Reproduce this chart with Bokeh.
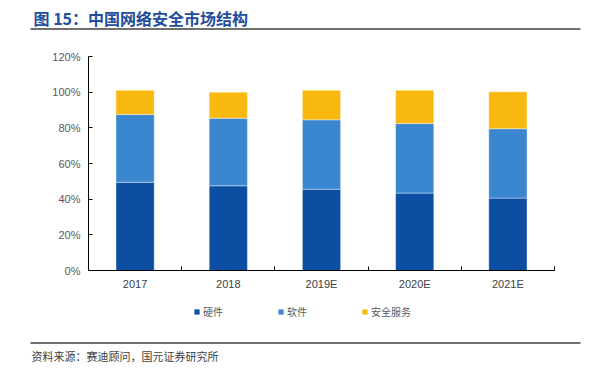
from bokeh.plotting import figure
from bokeh.models import (Range1d, FixedTicker, PrintfTickFormatter, Legend,
                          LegendItem, ColumnDataSource, LinearAxis)
from bokeh.embed import file_html
from bokeh.resources import INLINE
from bokeh.core.properties import value

# ---- data ----
years = ["2017", "2018", "2019E", "2020E", "2021E"]
hardware = [49.5, 47.5, 45.6, 43.4, 40.6]
software = [38.0, 37.9, 38.9, 39.0, 38.9]
services = [13.6, 14.6, 16.6, 18.7, 20.7]
series_names = ["硬件", "软件", "安全服务"]
colors = ["#0b4ea2", "#3a87d0", "#f8b80f"]
y_ticks = [0, 20, 40, 60, 80, 100, 120]
y_max = 120
title_text = "图 15：中国网络安全市场结构"
source_text = "资料来源：赛迪顾问，国元证券研究所"

# ---- layout (canvas pixels) ----
W, H = 590, 366
AX_L, AX_R = 88, 554      # plot area left / right
AX_T, AX_B = 56, 270      # plot area top / bottom
CJK = "Noto Sans CJK SC"
LAT = "Liberation Sans"

n = len(years)
ppx = (AX_R - AX_L) / n
ppy = (AX_B - AX_T) / y_max
x_range = Range1d(-AX_L / ppx, (W - AX_L) / ppx)
y_range = Range1d(-(H - AX_B) / ppy, y_max + AX_T / ppy)

p = figure(width=W, height=H, x_range=x_range, y_range=y_range,
           toolbar_location=None, output_backend="svg", outline_line_color=None,
           x_axis_type=None, y_axis_type=None,
           min_border=0, min_border_left=0, min_border_right=0,
           min_border_top=0, min_border_bottom=0)
p.xgrid.visible = False
p.ygrid.visible = False
p.extra_x_ranges = {"px": Range1d(0, W)}
p.extra_y_ranges = {"py": Range1d(H, 0)}

# ---- bars ----
xs = [i + 0.5 for i in range(n)]
src = ColumnDataSource(dict(x=xs, hw=hardware, sw=software, sv=services))
rs = p.vbar_stack(["hw", "sw", "sv"], x="x", width=0.41, color=colors, source=src,
                  line_color="white", line_width=0.8, line_alpha=0.5)

# ---- axes ----
xaxis = LinearAxis(fixed_location=0, bounds=(0, n),
                   ticker=FixedTicker(ticks=xs, minor_ticks=list(range(n + 1))),
                   major_label_overrides={x: y for x, y in zip(xs, years)},
                   major_tick_in=0, major_tick_out=0,
                   minor_tick_in=4, minor_tick_out=0,
                   minor_tick_line_color="#000000", axis_line_color="#000000",
                   major_label_text_font=LAT, major_label_text_font_size="11px",
                   major_label_text_color="#404040", major_label_standoff=7)
p.add_layout(xaxis, "below")

yaxis = LinearAxis(fixed_location=0, bounds=(0, y_max),
                   ticker=FixedTicker(ticks=y_ticks),
                   formatter=PrintfTickFormatter(format="%d%%"),
                   major_tick_in=4, major_tick_out=0, minor_tick_line_color=None,
                   major_tick_line_color="#000000", axis_line_color="#000000",
                   major_label_text_font=LAT, major_label_text_font_size="11px",
                   major_label_text_color="#595959", major_label_standoff=8)
p.add_layout(yaxis, "left")

# ---- legend ----
legend = Legend(items=[LegendItem(label=s, renderers=[r]) for s, r in zip(series_names, rs)],
                orientation="horizontal", location=(193, H - 321),
                glyph_width=7, glyph_height=7, label_standoff=3, spacing=54,
                padding=0, margin=0, border_line_alpha=0, background_fill_alpha=0,
                label_text_font=CJK, label_text_font_size="10px",
                label_text_color="#595959", label_height=20)
p.add_layout(legend, "center")

# ---- title, rules, source ----
p.text(x=[33], y=[17], text=[title_text], text_font=value(CJK),
       text_font_style="bold", text_font_size="16px", text_color="#1f4e9e",
       text_baseline="middle", text_align="left",
       x_range_name="px", y_range_name="py")
p.segment(x0=[30, 30], y0=[28.5, 342.5], x1=[580, 580], y1=[28.5, 342.5],
          line_color="#404040", line_width=1.4,
          x_range_name="px", y_range_name="py")
p.text(x=[31], y=[355], text=[source_text], text_font=value(CJK),
       text_font_size="11px", text_color="#404040",
       text_baseline="middle", text_align="left",
       x_range_name="px", y_range_name="py")

open("out.html", "w").write(file_html(p, INLINE))
